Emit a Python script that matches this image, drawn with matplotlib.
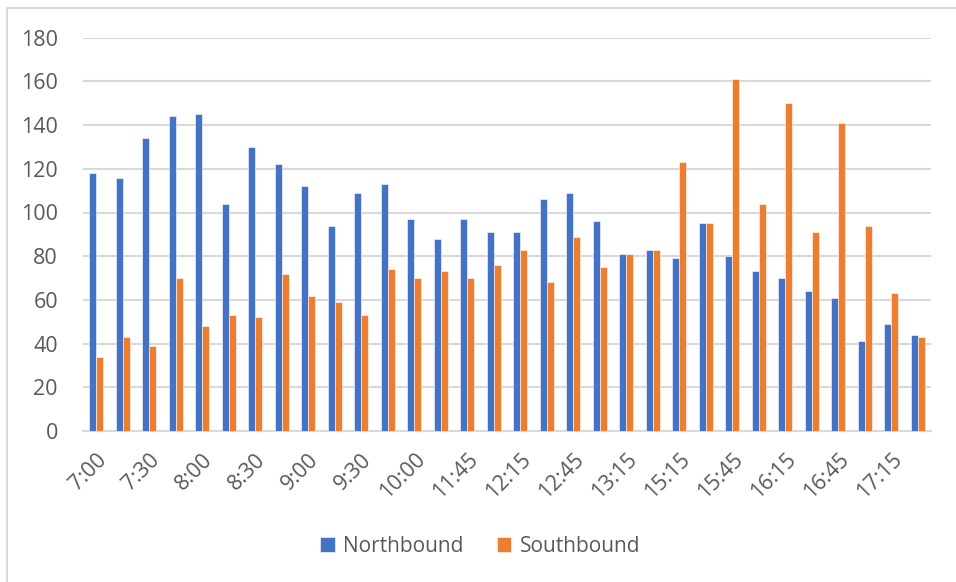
import numpy as np
import matplotlib.pyplot as plt
from matplotlib.patches import Rectangle

plt.rcParams['font.family'] = ['Open Sans', 'DejaVu Sans']

# 15-minute counts by direction
times = ['7:00', '7:15', '7:30', '7:45', '8:00', '8:15', '8:30', '8:45',
         '9:00', '9:15', '9:30', '9:45', '10:00', '11:30', '11:45', '12:00',
         '12:15', '12:30', '12:45', '13:00', '13:15', '15:00', '15:15', '15:30',
         '15:45', '16:00', '16:15', '16:30', '16:45', '17:00', '17:15', '17:30']
northbound = [118, 116, 134, 144, 145, 104, 130, 122, 112, 94, 109, 113, 97, 88, 97, 91,
              91, 106, 109, 96, 81, 83, 79, 95, 80, 73, 70, 64, 61, 41, 49, 44]
southbound = [34, 43, 39, 70, 48, 53, 52, 72, 62, 59, 53, 74, 70, 73, 70, 76,
              83, 68, 89, 75, 81, 83, 123, 95, 161, 104, 150, 91, 141, 94, 63, 43]

blue = '#4472C4'
orange = '#ED7D31'
grey_text = '#595959'
grid_col = '#D9D9D9'

fig = plt.figure(figsize=(9.56, 5.82), dpi=100)
ax = fig.add_axes([83 / 956, (582 - 431) / 582, 848 / 956, (431 - 37.7) / 582])

x = np.arange(len(times))
w = 0.25
ax.bar(x - 0.13, northbound, w, color=blue, edgecolor='white', linewidth=0.4,
       label='Northbound', zorder=3)
ax.bar(x + 0.13, southbound, w, color=orange, edgecolor='white', linewidth=0.4,
       label='Southbound', zorder=3)

ax.set_xlim(-0.5, len(times) - 0.5)
ax.set_ylim(0, 180)
ax.set_yticks(range(0, 181, 20))
ax.yaxis.grid(True, color=grid_col, linewidth=1.5, zorder=0)
ax.set_axisbelow(True)

ax.set_xticks(x[::2])
ax.set_xticklabels(times[::2], rotation=45, ha='right', rotation_mode='anchor')
ax.tick_params(axis='both', length=0, labelsize=15.5, colors=grey_text)
ax.tick_params(axis='x', pad=13)
ax.tick_params(axis='y', pad=18)

for s in ['top', 'right', 'left']:
    ax.spines[s].set_visible(False)
ax.spines['bottom'].set_color(grid_col)
ax.spines['bottom'].set_linewidth(1.5)

leg = fig.legend(loc='center', bbox_to_anchor=(480 / 956, 1 - 546 / 582), ncol=2,
                 frameon=False, fontsize=15, handlelength=0.7, handleheight=0.7,
                 handletextpad=0.4, columnspacing=1.6)
for t in leg.get_texts():
    t.set_color(grey_text)

# chart area border
fig.patches.append(Rectangle((7 / 956, -0.1), 1.1, 1 - 8 / 582 + 0.1,
                             transform=fig.transFigure, fill=False,
                             edgecolor=grid_col, linewidth=1.5))

fig.savefig('out.png', dpi=100)
